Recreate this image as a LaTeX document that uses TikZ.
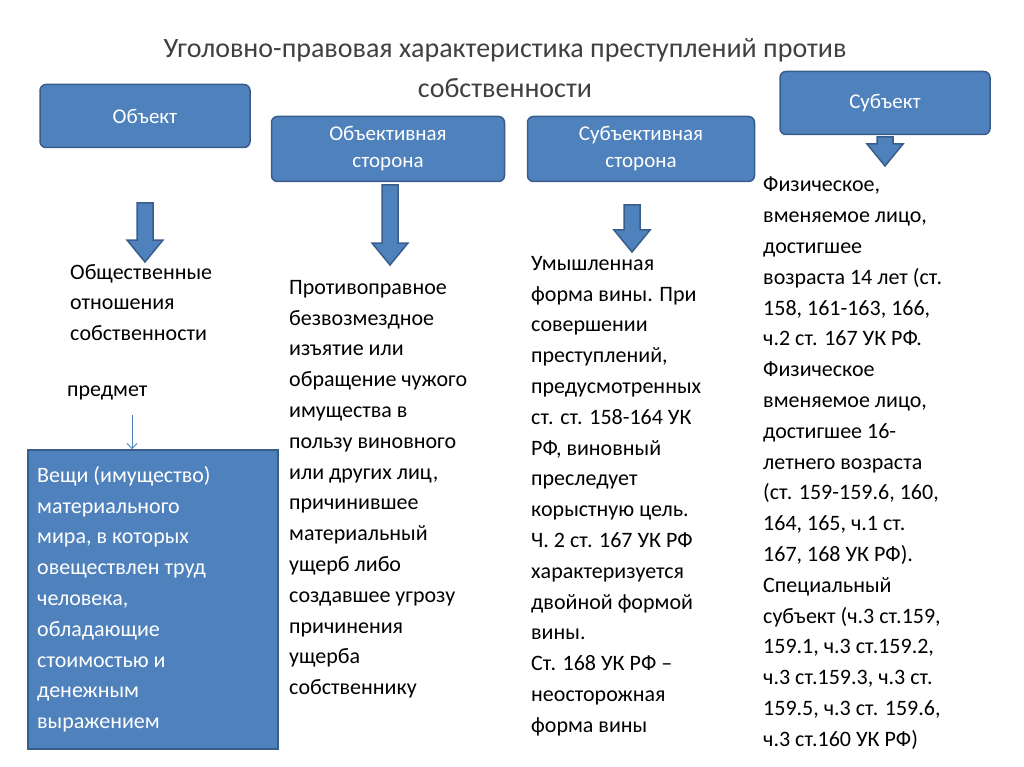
\documentclass[tikz,border=0pt]{standalone}
\usepackage{fontspec}
\usetikzlibrary{arrows.meta}
\setmainfont{Carlito}
\definecolor{bfill}{HTML}{4F81BD}
\definecolor{bline}{HTML}{385D8A}
\definecolor{ttl}{HTML}{404040}
\tikzset{
 hbox/.style={draw=bline,line width=1.5pt,fill=bfill,rounded corners=6pt,text=white,font=\fontsize{21}{27}\selectfont,align=center},
 coltext/.style={anchor=north west,inner sep=0pt,align=left,font=\fontsize{22}{30.8}\selectfont},
 barrow/.style={draw=bline,line width=1.5pt,fill=bfill}
}
\newcommand{\blockarr}[3]{% x, ytop, ybot
 \draw[barrow] (#1-8,#2) -- (#1+8,#2) -- (#1+8,#3-22) -- (#1+18,#3-22) -- (#1,#3) -- (#1-18,#3-22) -- (#1-8,#3-22) -- cycle;}
\begin{document}
\begin{tikzpicture}[x=1pt,y=-1pt]
\useasboundingbox (0,0) rectangle (1024,767);
\node[font=\fontsize{28}{40}\selectfont,align=center,text=ttl] (title) at (505,68) {Уголовно-правовая характеристика преступлений против\\собственности};
\node[hbox,minimum width=210pt,minimum height=63pt] (obj) at (145,116) {Объект};
\node[hbox,minimum width=233pt,minimum height=65pt] (objs) at (388,149) {Объективная\\сторона};
\node[hbox,minimum width=227pt,minimum height=65pt] (subs) at (641,149) {Субъективная\\сторона};
\node[hbox,minimum width=210pt,minimum height=63pt] (sub) at (885,103) {Субъект};
\blockarr{145}{203}{262}
\blockarr{390}{185}{265}
\blockarr{632}{205}{252}
\blockarr{885}{137}{166}
\node[coltext] (t1) at (70,264) {Общественные\\отношения\\собственности};
\node[coltext] (pr) at (67,386) {предмет};
\node[draw=bline,line width=1.5pt,fill=bfill,minimum width=250pt,minimum height=299pt,anchor=north west] (veshi) at (27,449) {};
\coordinate (pa) at (132,415);
\draw[bfill,line width=0.8pt,-{Straight Barb[length=5pt]}] (pa) -- (veshi.north -| pa);
\node[coltext,text=white] (t1b) at (37,466) {Вещи (имущество)\\материального\\мира, в которых\\овеществлен труд\\человека,\\обладающие\\стоимостью и\\денежным\\выражением};
\node[coltext] (t2) at (289,280) {Противоправное\\безвозмездное\\изъятие или\\обращение чужого\\имущества в\\пользу виновного\\или других лиц,\\причинившее\\материальный\\ущерб либо\\создавшее угрозу\\причинения\\ущерба\\собственнику};
\node[coltext] (t3) at (531,256) {Умышленная\\форма вины. При\\совершении\\преступлений,\\предусмотренных\\ст. ст. 158-164 УК\\РФ, виновный\\преследует\\корыстную цель.\\Ч. 2 ст. 167 УК РФ\\характеризуется\\двойной формой\\вины.\\Ст. 168 УК РФ –\\неосторожная\\форма вины};
\node[coltext] (t4) at (763,177) {Физическое,\\вменяемое лицо,\\достигшее\\возраста 14 лет (ст.\\158, 161-163, 166,\\ч.2 ст. 167 УК РФ.\\Физическое\\вменяемое лицо,\\достигшее 16-\\летнего возраста\\(ст. 159-159.6, 160,\\164, 165, ч.1 ст.\\167, 168 УК РФ).\\Специальный\\субъект (ч.3 ст.159,\\159.1, ч.3 ст.159.2,\\ч.3 ст.159.3, ч.3 ст.\\159.5, ч.3 ст. 159.6,\\ч.3 ст.160 УК РФ)};
\end{tikzpicture}
\end{document}
